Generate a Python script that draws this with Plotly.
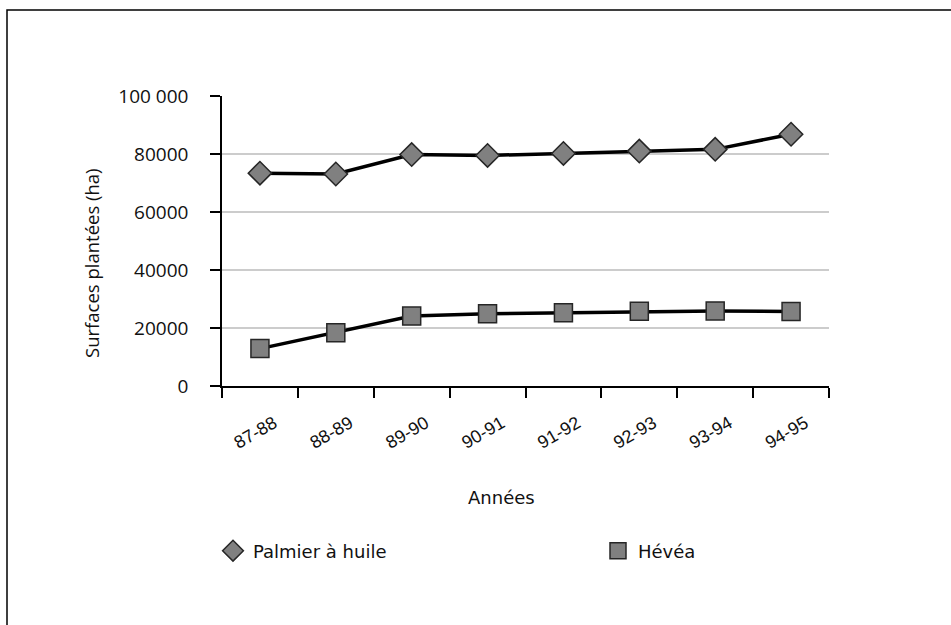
import plotly.graph_objects as go

annees = ["87-88", "88-89", "89-90", "90-91", "91-92", "92-93", "93-94", "94-95"]
palmier = [73400, 73100, 79800, 79500, 80200, 81000, 81600, 86800]
hevea = [12900, 18400, 24100, 24900, 25300, 25800, 25900, 25700]

y_tickvals = [0, 20000, 40000, 60000, 80000, 100000]
y_ticktext = ["0", "20000", "40000", "60000", "80000", "100 000"]

W, H = 951, 625
L, R, T, B = 222, 122, 96, 239
pw, ph = W - L - R, H - T - B

def px_x(p):
    return (p - L) / pw

def px_y(p):
    return (H - B - p) / ph

marker_fill = "#808080"
marker_line = dict(color="#262626", width=1.5)
sans = "Liberation Sans, Arial, sans-serif"
sans2 = "Open Sans, sans-serif"
sans3 = "DejaVu Sans, Verdana, sans-serif"

fig = go.Figure()
fig.add_trace(go.Scatter(
    x=annees, y=palmier, mode="lines+markers", name="Palmier à huile",
    line=dict(color="black", width=3.5),
    marker=dict(symbol="diamond", size=18, color=marker_fill, line=marker_line),
    showlegend=False,
))
fig.add_trace(go.Scatter(
    x=annees, y=hevea, mode="lines+markers", name="Hévéa",
    line=dict(color="black", width=3.5),
    marker=dict(symbol="square", size=18, color=marker_fill, line=marker_line),
    showlegend=False,
))
# legend entries (markers only)
fig.add_trace(go.Scatter(
    x=[None], y=[None], mode="markers", name="Palmier à huile",
    marker=dict(symbol="diamond", size=17, color=marker_fill, line=marker_line),
))
fig.add_trace(go.Scatter(
    x=[None], y=[None], mode="markers", name="Hévéa",
    marker=dict(symbol="square", size=17, color=marker_fill, line=marker_line),
))

fig.update_layout(
    width=W, height=H,
    margin=dict(l=L, r=R, t=T, b=B, autoexpand=False),
    paper_bgcolor="white", plot_bgcolor="white",
    font=dict(family=sans, size=18, color="#111111"),
    showlegend=True,
    legend=dict(
        orientation="h", x=px_x(213), xanchor="left", y=px_y(551), yanchor="middle",
        entrywidth=340, entrywidthmode="pixels",
        font=dict(family=sans3, size=18, color="#111111"),
        bgcolor="rgba(0,0,0,0)",
    ),
    xaxis=dict(
        type="category", range=[-0.5, 7.5],
        showline=True, linecolor="black", linewidth=1.5,
        ticks="outside", ticklen=10, tickwidth=1.5, tickcolor="black",
        tickson="boundaries", tickangle=-30, ticklabelshift=14,
        ticklabelstandoff=18,
        showgrid=False, zeroline=False,
        tickfont=dict(family=sans, size=18),
    ),
    yaxis=dict(
        range=[0, 100000], tickvals=y_tickvals, ticktext=y_ticktext,
        showline=True, linecolor="black", linewidth=1.5,
        ticks="outside", ticklen=10, tickwidth=1.5, tickcolor="black",
        ticklabelstandoff=18,
        showgrid=True, gridcolor="#cccccc", gridwidth=1.5,
        zeroline=False,
        tickfont=dict(family=sans2, size=19),
    ),
    annotations=[
        dict(text="Années", xref="paper", yref="paper", x=px_x(501), y=px_y(497),
             xanchor="center", yanchor="middle", showarrow=False,
             font=dict(family=sans3, size=18)),
        dict(text="Surfaces plantées (ha)", xref="paper", yref="paper",
             x=px_x(91), y=px_y(263), textangle=-90,
             xanchor="center", yanchor="middle", showarrow=False,
             font=dict(family=sans2, size=18.5)),
    ],
    shapes=[dict(
        type="rect", xref="paper", yref="paper",
        x0=px_x(7), y0=px_y(700), x1=px_x(1000), y1=px_y(10),
        line=dict(color="black", width=1.5), fillcolor="rgba(0,0,0,0)", layer="below",
    )],
)

fig.write_html("out.html", config={"displayModeBar": False},
               post_script="document.body.style.margin='0';")
